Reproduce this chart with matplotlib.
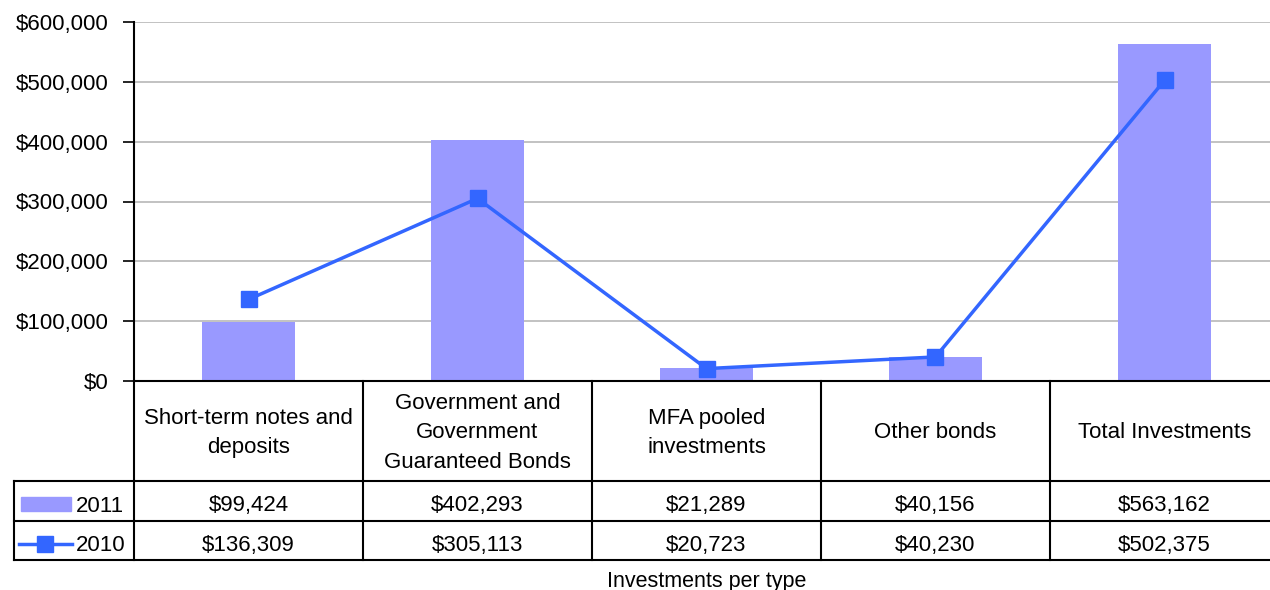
import numpy as np
import matplotlib.pyplot as plt

plt.rcParams['font.family'] = ['Liberation Sans', 'DejaVu Sans']

categories = ['Short-term notes and\ndeposits', 'Government and\nGovernment\nGuaranteed Bonds',
              'MFA pooled\ninvestments', 'Other bonds', 'Total Investments']
vals_2011 = [99424, 402293, 21289, 40156, 563162]
vals_2010 = [136309, 305113, 20723, 40230, 502375]

bar_color = '#9999FF'
line_color = '#3366FF'
fs = 16

W, H = 1270, 590
fig = plt.figure(figsize=(W / 100, H / 100), dpi=100)

# main plot area (pixel box: x 134..1279, y 22..381)
left, right, top, bottom = 134, 1279, 22, 381
ax = fig.add_axes([left / W, 1 - bottom / H, (right - left) / W, (bottom - top) / H])
x = np.arange(len(categories))
ax.bar(x, vals_2011, width=0.41, color=bar_color, zorder=2)
ax.plot(x, vals_2010, color=line_color, lw=2.5, marker='s', markersize=12, zorder=3)
ax.set_xlim(-0.5, 4.5)
ax.set_ylim(0, 600000)
ax.set_yticks(np.arange(0, 600001, 100000))
ax.set_yticklabels(['${:,}'.format(v) for v in range(0, 600001, 100000)], fontsize=fs)
ax.yaxis.grid(True, color='#B8B8B8', lw=1.2, zorder=0)
ax.tick_params(axis='y', length=8, width=1.2, pad=10)
ax.set_xticks([])
for s in ['top', 'right']:
    ax.spines[s].set_visible(False)
ax.spines['left'].set_linewidth(1.5)
ax.spines['bottom'].set_linewidth(1.5)

# data table below the plot
tl, tr, tt, tb = 14, 1279, 381, 560
tax = fig.add_axes([tl / W, 1 - tb / H, (tr - tl) / W, (tb - tt) / H])
unit = (right - left) / 5.0
lx = -0.5 - (left - tl) / unit
tax.set_xlim(lx, 4.5)
tax.set_ylim(tb - tt, 0)
tax.axis('off')
r1, r2, r3 = 100, 140, tb - tt
lw = 1.5
for i in range(len(categories) + 1):
    tax.plot([i - 0.5, i - 0.5], [0, r3], color='black', lw=lw, clip_on=False)
tax.plot([lx, lx], [r1, r3], color='black', lw=lw, clip_on=False)
for yy in [r1, r2, r3]:
    tax.plot([lx, 4.5], [yy, yy], color='black', lw=lw, clip_on=False)

for i, c in enumerate(categories):
    tax.text(i, r1 / 2 + 2, c, ha='center', va='center', fontsize=fs, linespacing=1.55)
    tax.text(i, (r1 + r2) / 2 + 5, '${:,}'.format(vals_2011[i]), ha='center', va='center', fontsize=fs)
    tax.text(i, (r2 + r3) / 2 + 5, '${:,}'.format(vals_2010[i]), ha='center', va='center', fontsize=fs)

# legend keys in the table
kx0, kx1 = lx + 7 / unit, lx + 57 / unit
tax.add_patch(plt.Rectangle((kx0, (r1 + r2) / 2 - 4), kx1 - kx0, 14, color=bar_color, clip_on=False))
tax.plot([lx + 5 / unit, lx + 58 / unit], [(r2 + r3) / 2 + 3] * 2, color=line_color, lw=2.5, clip_on=False)
tax.plot([lx + 31 / unit], [(r2 + r3) / 2 + 3], color=line_color, marker='s', markersize=12, clip_on=False)
tax.text(lx + 62 / unit, (r1 + r2) / 2 + 5, '2011', ha='left', va='center', fontsize=fs)
tax.text(lx + 62 / unit, (r2 + r3) / 2 + 5, '2010', ha='left', va='center', fontsize=fs)

fig.text((left + right) / 2 / W, 1 - 581 / H, 'Investments per type', ha='center', va='center', fontsize=fs - 0.5)

fig.savefig('out.png', dpi=100)
